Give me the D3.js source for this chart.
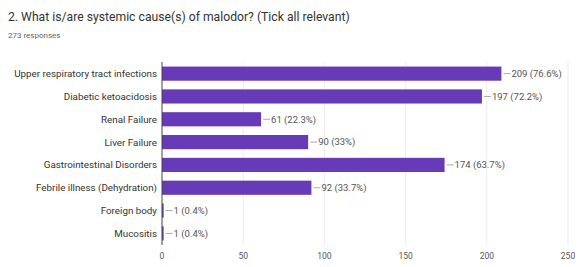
<!DOCTYPE html>
<html>
<head>
<meta charset="utf-8">
<script src="https://cdn.jsdelivr.net/npm/d3@7"></script>
<style>
  body { margin: 0; background: #fff; }
  text { font-family: Roboto, Arial, sans-serif; }
</style>
</head>
<body>
<svg id="chart"></svg>
<script>
// Data
const categories = [
  "Upper respiratory tract infections",
  "Diabetic ketoacidosis",
  "Renal Failure",
  "Liver Failure",
  "Gastrointestinal Disorders",
  "Febrile illness (Dehydration)",
  "Foreign body",
  "Mucositis"
];
const counts = [209, 197, 61, 90, 174, 92, 1, 1];
const percents = ["76.6%", "72.2%", "22.3%", "33%", "63.7%", "33.7%", "0.4%", "0.4%"];
const xTicks = [0, 50, 100, 150, 200, 250];

const svgWidth = 582, svgHeight = 267;
const margin = { top: 62, right: 14, bottom: 22, left: 162 };

const svg = d3.select("#chart")
  .attr("width", svgWidth)
  .attr("height", svgHeight);

// Title
svg.append("text")
  .attr("x", 8).attr("y", 21)
  .attr("font-size", 12.2)
  .attr("fill", "#333")
  .text("2. What is/are systemic cause(s) of malodor? (Tick all relevant)");

svg.append("text")
  .attr("x", 8).attr("y", 38)
  .attr("font-size", 8)
  .attr("fill", "#666")
  .text("273 responses");

const xScale = d3.scaleLinear()
  .domain([0, 250])
  .range([margin.left, svgWidth - margin.right]);

const yScale = d3.scaleBand()
  .domain(categories)
  .range([margin.top, svgHeight - margin.bottom])
  .paddingInner(0.38)
  .paddingOuter(0.2);

// Grid lines
svg.selectAll("line.grid")
  .data(xTicks.slice(1))
  .enter().append("line")
  .attr("class", "grid")
  .attr("x1", d => xScale(d)).attr("x2", d => xScale(d))
  .attr("y1", margin.top).attr("y2", svgHeight - margin.bottom)
  .attr("stroke", "#ededed")
  .attr("stroke-width", 1);

// Bars
svg.selectAll("rect.bar")
  .data(categories)
  .enter().append("rect")
  .attr("class", "bar")
  .attr("x", xScale(0))
  .attr("y", d => yScale(d))
  .attr("width", (d, i) => xScale(counts[i]) - xScale(0))
  .attr("height", yScale.bandwidth())
  .attr("fill", "#673ab7");

// Axis line at zero
svg.append("line")
  .attr("x1", xScale(0)).attr("x2", xScale(0))
  .attr("y1", margin.top).attr("y2", svgHeight - margin.bottom)
  .attr("stroke", "#444")
  .attr("stroke-width", 1);

// Leader lines and value labels
categories.forEach((c, i) => {
  const x = xScale(counts[i]);
  const y = yScale(c) + yScale.bandwidth() / 2;
  svg.append("line")
    .attr("x1", x + 2).attr("x2", x + 9)
    .attr("y1", y).attr("y2", y)
    .attr("stroke", "#aaa");
  svg.append("text")
    .attr("x", x + 10).attr("y", y)
    .attr("dy", "0.35em")
    .attr("font-size", 9.5)
    .attr("fill", "#555")
    .text(`${counts[i]} (${percents[i]})`);
});

// Category labels
svg.selectAll("text.cat")
  .data(categories)
  .enter().append("text")
  .attr("class", "cat")
  .attr("x", margin.left - 5)
  .attr("y", d => yScale(d) + yScale.bandwidth() / 2)
  .attr("dy", "0.35em")
  .attr("text-anchor", "end")
  .attr("font-size", 9.8)
  .attr("fill", "#333")
  .text(d => d);

// X tick labels
svg.selectAll("text.tick")
  .data(xTicks)
  .enter().append("text")
  .attr("class", "tick")
  .attr("x", d => xScale(d))
  .attr("y", svgHeight - 8)
  .attr("text-anchor", "middle")
  .attr("font-size", 8.5)
  .attr("fill", "#555")
  .text(d => d);
</script>
</body>
</html>
